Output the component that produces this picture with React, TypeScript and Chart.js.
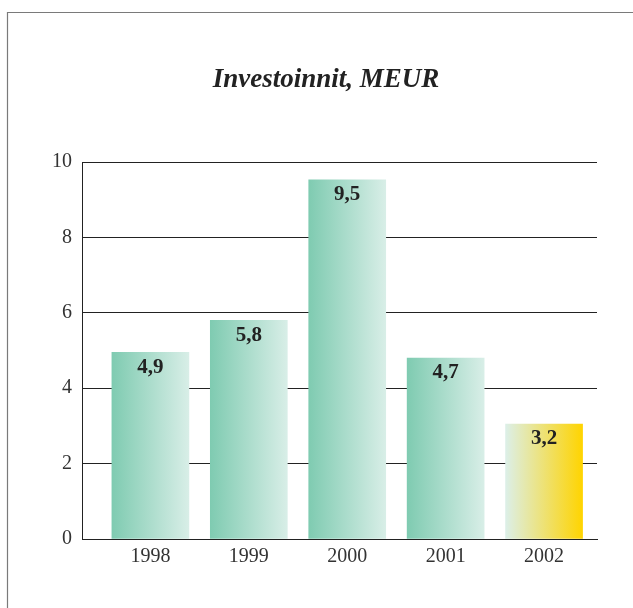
import React, { useEffect, useRef } from "react";
import { Chart, registerables } from "chart.js";

Chart.register(...registerables);

const years = ["1998", "1999", "2000", "2001", "2002"];
const barHeights = [4.95, 5.8, 9.53, 4.8, 3.05];
const valueLabels = ["4,9", "5,8", "9,5", "4,7", "3,2"];
const yMin = 0;
const yMax = 10;
const yStep = 2;
const titleText = "Investoinnit, MEUR";
const highlightIndex = 4;
const greenStops = ["#7fcbb1", "#d8eee7"];
const yellowStops = ["#dcefe8", "#ffd400"];

const FONT = "'Liberation Serif', 'Times New Roman', serif";
const BAR_W = 77;

export default function App() {
  const ref = useRef<HTMLCanvasElement | null>(null);

  useEffect(() => {
    if (!ref.current) return;

    const framePlugin = {
      id: "frame",
      beforeDraw(chart: any) {
        const ctx = chart.ctx;
        ctx.save();
        ctx.strokeStyle = "#7a7a7a";
        ctx.lineWidth = 1.2;
        ctx.beginPath();
        ctx.moveTo(7.5, 608);
        ctx.lineTo(7.5, 12.5);
        ctx.lineTo(633, 12.5);
        ctx.stroke();
        ctx.restore();
      },
    };

    const titlePlugin = {
      id: "manualTitle",
      afterDraw(chart: any) {
        const ctx = chart.ctx;
        ctx.save();
        ctx.font = `italic bold 27px ${FONT}`;
        ctx.fillStyle = "#222";
        ctx.textAlign = "center";
        ctx.textBaseline = "middle";
        ctx.fillText(titleText, 326, 80);
        ctx.restore();
      },
    };

    const gradientPlugin = {
      id: "barGradients",
      beforeDatasetsDraw(chart: any) {
        const meta = chart.getDatasetMeta(0);
        meta.data.forEach((el: any, i: number) => {
          if (!Number.isFinite(el.x)) return;
          const g = chart.ctx.createLinearGradient(el.x - el.width / 2, 0, el.x + el.width / 2, 0);
          const stops = i === highlightIndex ? yellowStops : greenStops;
          g.addColorStop(0, stops[0]);
          g.addColorStop(1, stops[1]);
          el.options.backgroundColor = g;
        });
      },
    };

    const labelPlugin = {
      id: "valueLabels",
      afterDatasetsDraw(chart: any) {
        const ctx = chart.ctx;
        const meta = chart.getDatasetMeta(0);
        ctx.save();
        ctx.font = `bold 21px ${FONT}`;
        ctx.fillStyle = "#222";
        ctx.textAlign = "center";
        ctx.textBaseline = "middle";
        meta.data.forEach((el: any, i: number) => {
          ctx.fillText(valueLabels[i], el.x, el.y + 15);
        });
        ctx.restore();
      },
    };

    const chart = new Chart(ref.current, {
      type: "bar",
      data: {
        datasets: [
          {
            data: barHeights.map((v, i) => ({ x: i, y: v })),
            barThickness: BAR_W,
            borderWidth: 0,
            backgroundColor: (c: any) => (c.dataIndex === highlightIndex ? yellowStops[1] : greenStops[0]),
          },
        ],
      },
      options: {
        animation: false,
        responsive: false,
        devicePixelRatio: 1,
        layout: { padding: { top: 162, left: 0, right: 36, bottom: 29 } },
        plugins: {
          legend: { display: false },
          title: { display: false },
          tooltip: { enabled: false },
        },
        scales: {
          x: {
            type: "linear",
            min: -0.695,
            max: 4.538,
            offset: false,
            grid: { display: false, drawTicks: false },
            border: { display: true, color: "#222", width: 1 },
            afterBuildTicks: (scale: any) => {
              scale.ticks = years.map((_, i) => ({ value: i }));
            },
            afterFit: (scale: any) => {
              scale.height = 40;
            },
            ticks: {
              autoSkip: false,
              maxRotation: 0,
              padding: 6,
              color: "#333",
              font: { family: FONT, size: 20 },
              callback: (v: any) => years[v as number] ?? "",
            },
          },
          y: {
            min: yMin,
            max: yMax,
            grid: { color: "#222", lineWidth: 1, drawTicks: false },
            border: { display: true, color: "#222", width: 1 },
            afterFit: (scale: any) => {
              scale.width = 82;
            },
            ticks: {
              stepSize: yStep,
              padding: 10,
              color: "#333",
              font: { family: FONT, size: 20 },
            },
          },
        },
      },
      plugins: [framePlugin, gradientPlugin, labelPlugin, titlePlugin],
    });

    return () => chart.destroy();
  }, []);

  return (
    <div style={{ position: "absolute", left: 0, top: 0, width: 633, height: 608, background: "#fff" }}>
      <canvas ref={ref} width={633} height={608} style={{ display: "block" }} />
    </div>
  );
}
